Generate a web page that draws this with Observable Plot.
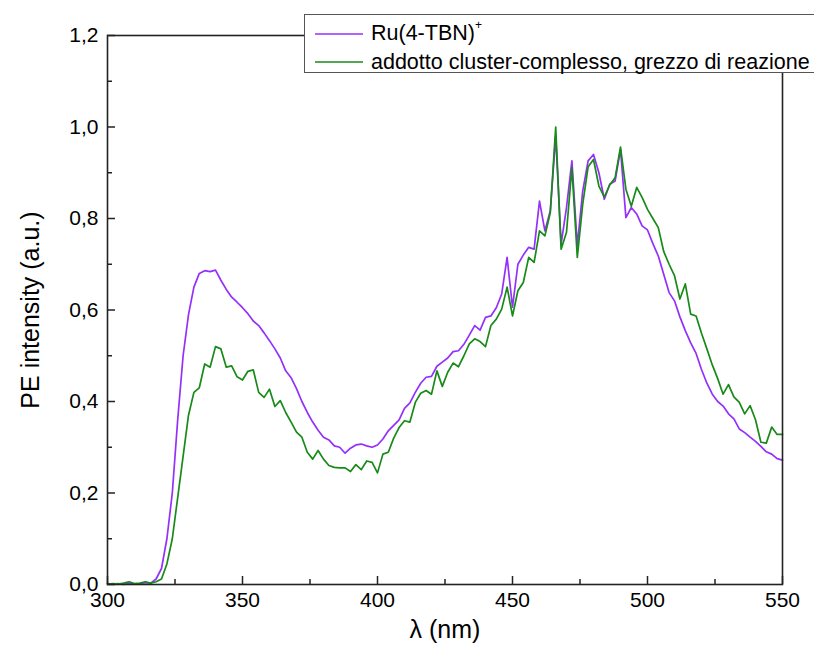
<!DOCTYPE html>
<html><head><meta charset="utf-8">
<script src="https://cdn.jsdelivr.net/npm/d3@7"></script>
<script src="https://cdn.jsdelivr.net/npm/@observablehq/plot@0.6"></script>
<style>
body{margin:0;background:#fff;overflow:hidden;font-family:"Liberation Sans",Arial,sans-serif;}
#wrap{position:relative;width:814px;height:650px;overflow:hidden;}
#legend{position:absolute;left:304px;top:14px;width:580px;height:59px;border:1px solid #555;background:#fff;box-sizing:border-box;font-size:21.5px;color:#000;}
.row{position:absolute;left:10px;height:26px;display:flex;align-items:center;white-space:nowrap;}
.row svg{margin-right:8px;}
sup{font-size:12px;position:relative;top:-3px;}
</style></head>
<body><div id="wrap"><div id="chart"></div>
<div id="legend">
<div class="row" style="top:6px"><svg width="48" height="4"><line id="sw1" x1="0" x2="48" y1="2" y2="2" stroke-width="1.6"/></svg><span>Ru(4-TBN)<sup>+</sup></span></div>
<div class="row" style="top:34px"><svg width="48" height="4"><line id="sw2" x1="0" x2="48" y1="2" y2="2" stroke-width="1.6"/></svg><span>addotto cluster-complesso, grezzo di reazione</span></div>
</div></div>
<script>
const seriesNames = ["Ru(4-TBN)+", "addotto cluster-complesso, grezzo di reazione"];
const lambda = [300,302,304,306,308,310,312,314,316,318,320,322,324,326,328,330,332,334,336,338,
340,342,344,346,348,350,352,354,356,358,360,362,364,366,368,370,372,374,376,378,
380,382,384,386,388,390,392,394,396,398,400,402,404,406,408,410,412,414,416,418,
420,422,424,426,428,430,432,434,436,438,440,442,444,446,448,450,452,454,456,458,
460,462,464,466,468,470,472,474,476,478,480,482,484,486,488,490,492,494,496,498,
500,502,504,506,508,510,512,514,516,518,520,522,524,526,528,530,532,534,536,538,
540,542,544,546,548,550];
const ru = [0.002,0.001,0.002,0.000,0.003,0.001,0.002,0.004,0.003,0.012,
0.035,0.100,0.200,0.360,0.500,0.590,0.650,0.680,0.686,0.684,
0.687,0.665,0.645,0.628,0.617,0.605,0.592,0.576,0.566,0.550,
0.533,0.515,0.495,0.467,0.452,0.428,0.400,0.376,0.355,0.337,
0.322,0.316,0.303,0.300,0.287,0.298,0.305,0.307,0.303,0.300,
0.305,0.318,0.336,0.348,0.360,0.385,0.397,0.420,0.440,0.453,
0.455,0.477,0.486,0.495,0.509,0.511,0.525,0.545,0.566,0.556,
0.584,0.587,0.605,0.635,0.715,0.606,0.700,0.720,0.737,0.733,
0.838,0.773,0.817,0.980,0.744,0.824,0.926,0.741,0.860,0.926,
0.940,0.900,0.842,0.875,0.882,0.951,0.802,0.824,0.810,0.784,
0.775,0.745,0.718,0.678,0.638,0.620,0.585,0.555,0.528,0.505,
0.470,0.440,0.416,0.400,0.390,0.373,0.362,0.340,0.332,0.322,
0.313,0.302,0.290,0.285,0.275,0.272];
const addotto = [0.001,0.002,0.001,0.003,0.006,0.002,0.003,0.006,0.003,0.006,
0.012,0.045,0.100,0.190,0.280,0.370,0.420,0.430,0.482,0.475,
0.520,0.515,0.475,0.478,0.454,0.447,0.466,0.469,0.420,0.409,
0.427,0.389,0.402,0.376,0.355,0.333,0.322,0.289,0.274,0.293,
0.274,0.260,0.256,0.255,0.255,0.247,0.262,0.251,0.270,0.267,
0.244,0.285,0.289,0.320,0.343,0.358,0.355,0.398,0.418,0.424,
0.416,0.467,0.433,0.464,0.484,0.476,0.500,0.526,0.537,0.531,
0.520,0.566,0.580,0.602,0.650,0.587,0.642,0.660,0.715,0.704,
0.773,0.762,0.813,1.000,0.733,0.770,0.911,0.715,0.831,0.913,
0.929,0.871,0.847,0.873,0.889,0.956,0.864,0.827,0.868,0.846,
0.820,0.800,0.780,0.728,0.700,0.675,0.624,0.657,0.591,0.587,
0.549,0.515,0.480,0.450,0.416,0.437,0.410,0.398,0.373,0.391,
0.360,0.311,0.309,0.344,0.328,0.328];
const xMajor = [300,350,400,450,500,550];
const xMinor = [325,375,425,475,525];
const yMajor = [0,0.2,0.4,0.6,0.8,1.0,1.2];
const yMinor = [0.1,0.3,0.5,0.7,0.9,1.1];
const colors = ["#9430fa", "#188a18"];

const data = lambda.flatMap((l, i) => [
  {l, v: ru[i], s: seriesNames[0]},
  {l, v: addotto[i], s: seriesNames[1]}
]);

document.getElementById("sw1").setAttribute("stroke", colors[0]);
document.getElementById("sw2").setAttribute("stroke", colors[1]);

const fmt = d => d.toFixed(1).replace(".", ",");
const blank = () => "";
const chart = Plot.plot({
  width: 814, height: 650,
  marginLeft: 107, marginRight: 32, marginTop: 35, marginBottom: 66,
  style: {fontFamily: "Liberation Sans, Arial, sans-serif", fontSize: "21px", color: "#000", background: "#fff"},
  x: {domain: [300, 550]},
  y: {domain: [0, 1.2]},
  color: {domain: seriesNames, range: colors},
  marks: [
    Plot.line(data, {x: "l", y: "v", z: "s", stroke: "s", strokeWidth: 1.7}),
    Plot.frame({stroke: "#222", strokeWidth: 1.6}),
    Plot.axisX({ticks: xMajor, tickSize: 0, tickPadding: 8, tickFormat: d => String(d), fontSize: 21, label: null}),
    Plot.axisY({ticks: yMajor, tickSize: 0, tickPadding: 9, tickFormat: fmt, fontSize: 21, label: null}),
    Plot.axisX({ticks: xMajor, tickSize: 8, dy: -8, stroke: "#222", strokeWidth: 1.5, tickFormat: blank, label: null}),
    Plot.axisX({ticks: xMinor, tickSize: 5, dy: -5, stroke: "#222", strokeWidth: 1.5, tickFormat: blank, label: null}),
    Plot.axisY({ticks: yMajor, tickSize: 8, dx: 8, stroke: "#222", strokeWidth: 1.5, tickFormat: blank, label: null}),
    Plot.axisY({ticks: yMinor, tickSize: 5, dx: 5, stroke: "#222", strokeWidth: 1.5, tickFormat: blank, label: null}),
    Plot.text(["λ (nm)"], {frameAnchor: "bottom", dy: 53, fontSize: 25}),
    Plot.text(["PE intensity (a.u.)"], {frameAnchor: "left", textAnchor: "middle", dx: -77, rotate: -90, fontSize: 25})
  ]
});
document.getElementById("chart").appendChild(chart);
</script></body></html>
